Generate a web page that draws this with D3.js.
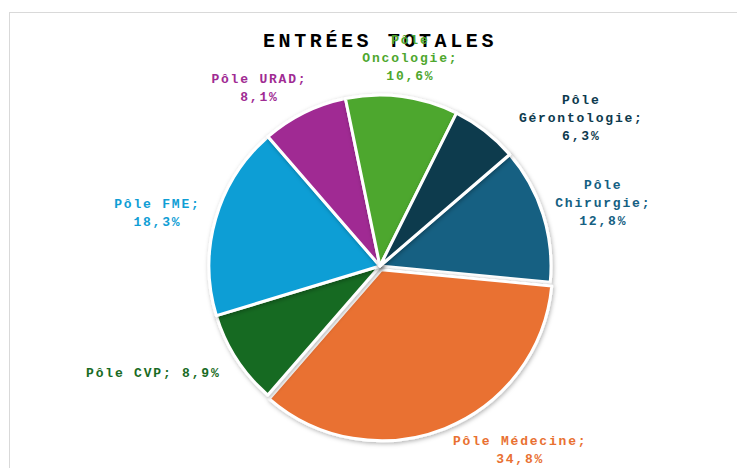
<!DOCTYPE html>
<html>
<head>
<meta charset="utf-8">
<script src="https://cdn.jsdelivr.net/npm/d3@7"></script>
<style>
  html, body { margin: 0; padding: 0; background: #fff; }
  #piechart { width: 737px; height: 468px; }
</style>
</head>
<body>
<div id="piechart"></div>
<script>
// === Data (Excel order, clockwise) ===
const poles = ["Pôle Chirurgie", "Pôle Médecine", "Pôle CVP", "Pôle FME", "Pôle URAD", "Pôle Oncologie", "Pôle Gérontologie"];
const shares = [12.8, 34.8, 8.9, 18.3, 8.1, 10.6, 6.3];
const chartTitle = "ENTRÉES TOTALES";

const colors = ["#156082", "#E97132", "#196B24", "#0F9ED5", "#A02B93", "#4EA72E", "#0D3A4E"];
// label nudges away from the plain outside-end position (Excel best fit)
const labelNudge = [[6, -1], [48, 1], [-21, 4], [-10, 1], [-21, -2], [0, -4], [52, 14]];

const fullWidth = 737, fullHeight = 468;
const cx = 380, cy = 266, radius = 171;
const fontFamily = "'Courier New', 'Liberation Mono', monospace";

const svg = d3.select("#piechart")
  .append("svg")
  .attr("width", fullWidth)
  .attr("height", fullHeight);

const defs = svg.append("defs");
const shadow = defs.append("filter").attr("id", "shadow")
  .attr("x", "-20%").attr("y", "-20%").attr("width", "140%").attr("height", "140%");
shadow.append("feDropShadow")
  .attr("dx", 1).attr("dy", 1.5).attr("stdDeviation", 2)
  .attr("flood-color", "#000").attr("flood-opacity", 0.3);

// chart area border
svg.append("rect")
  .attr("x", 9.5).attr("y", 12.5)
  .attr("width", 740).attr("height", 470)
  .attr("fill", "none")
  .attr("stroke", "#d9d9d9")
  .attr("stroke-width", 1);

const data = poles.map((p, i) => ({ pole: p, value: shares[i], color: colors[i], i }));

const pie = d3.pie()
  .sort(null)
  .value(d => d.value)
  .startAngle(49.3 * Math.PI / 180)
  .endAngle(49.3 * Math.PI / 180 + 2 * Math.PI);

const arcs = pie(data);
const arc = d3.arc().innerRadius(0).outerRadius(radius);

const chart = svg.append("g").attr("transform", `translate(${cx},${cy})`);

// === Slices ===
chart.selectAll("path")
  .data(arcs)
  .enter()
  .append("path")
  .attr("d", arc)
  .attr("fill", d => d.data.color)
  .attr("stroke", "#fff")
  .attr("stroke-width", 3)
  .attr("stroke-linejoin", "round")
  .attr("filter", "url(#shadow)")
  .attr("transform", d => {
    if (d.data.pole !== "Pôle Médecine") return null;
    const a = (d.startAngle + d.endAngle) / 2;
    return `translate(${Math.sin(a) * 4},${-Math.cos(a) * 4})`;
  });

// === Title ===
svg.append("text")
  .attr("x", 380)
  .attr("y", 47)
  .attr("text-anchor", "middle")
  .style("font-family", fontFamily)
  .style("font-weight", "bold")
  .style("font-size", "20px")
  .style("letter-spacing", "3.6px")
  .style("fill", "#000")
  .text(chartTitle);

// === Labels ===
const fmt = v => d3.format(".1f")(v).replace(".", ",") + "%";
const charW = 9.6, lineH = 18, maxChars = 14;

function wrap(str) {
  const words = str.split(" ");
  const lines = [];
  let cur = "";
  words.forEach(w => {
    const next = cur ? cur + " " + w : w;
    if (next.length > maxChars && cur) { lines.push(cur); cur = w; }
    else cur = next;
  });
  if (cur) lines.push(cur);
  return lines;
}

arcs.forEach(d => {
  const a = (d.startAngle + d.endAngle) / 2;
  const lines = wrap(`${d.data.pole}; ${fmt(d.data.value)}`);
  const w = d3.max(lines, l => l.length) * charW;
  const h = lines.length * lineH;
  const px = Math.sin(a) * (radius + 8), py = -Math.cos(a) * (radius + 8);
  const nudge = labelNudge[d.data.i];
  const lx = cx + px + Math.sin(a) * w / 2 + nudge[0];
  const ly = cy + py - Math.cos(a) * h / 2 + nudge[1];

  const t = svg.append("text")
    .attr("text-anchor", "middle")
    .style("font-family", fontFamily)
    .style("font-weight", "bold")
    .style("font-size", "13px")
    .style("letter-spacing", "1.8px")
    .style("fill", d.data.color);

  lines.forEach((l, k) => {
    t.append("tspan")
      .attr("x", lx + 0.9)
      .attr("y", ly - h / 2 + k * lineH + 13.5)
      .text(l);
  });
});
</script>
</body>
</html>
